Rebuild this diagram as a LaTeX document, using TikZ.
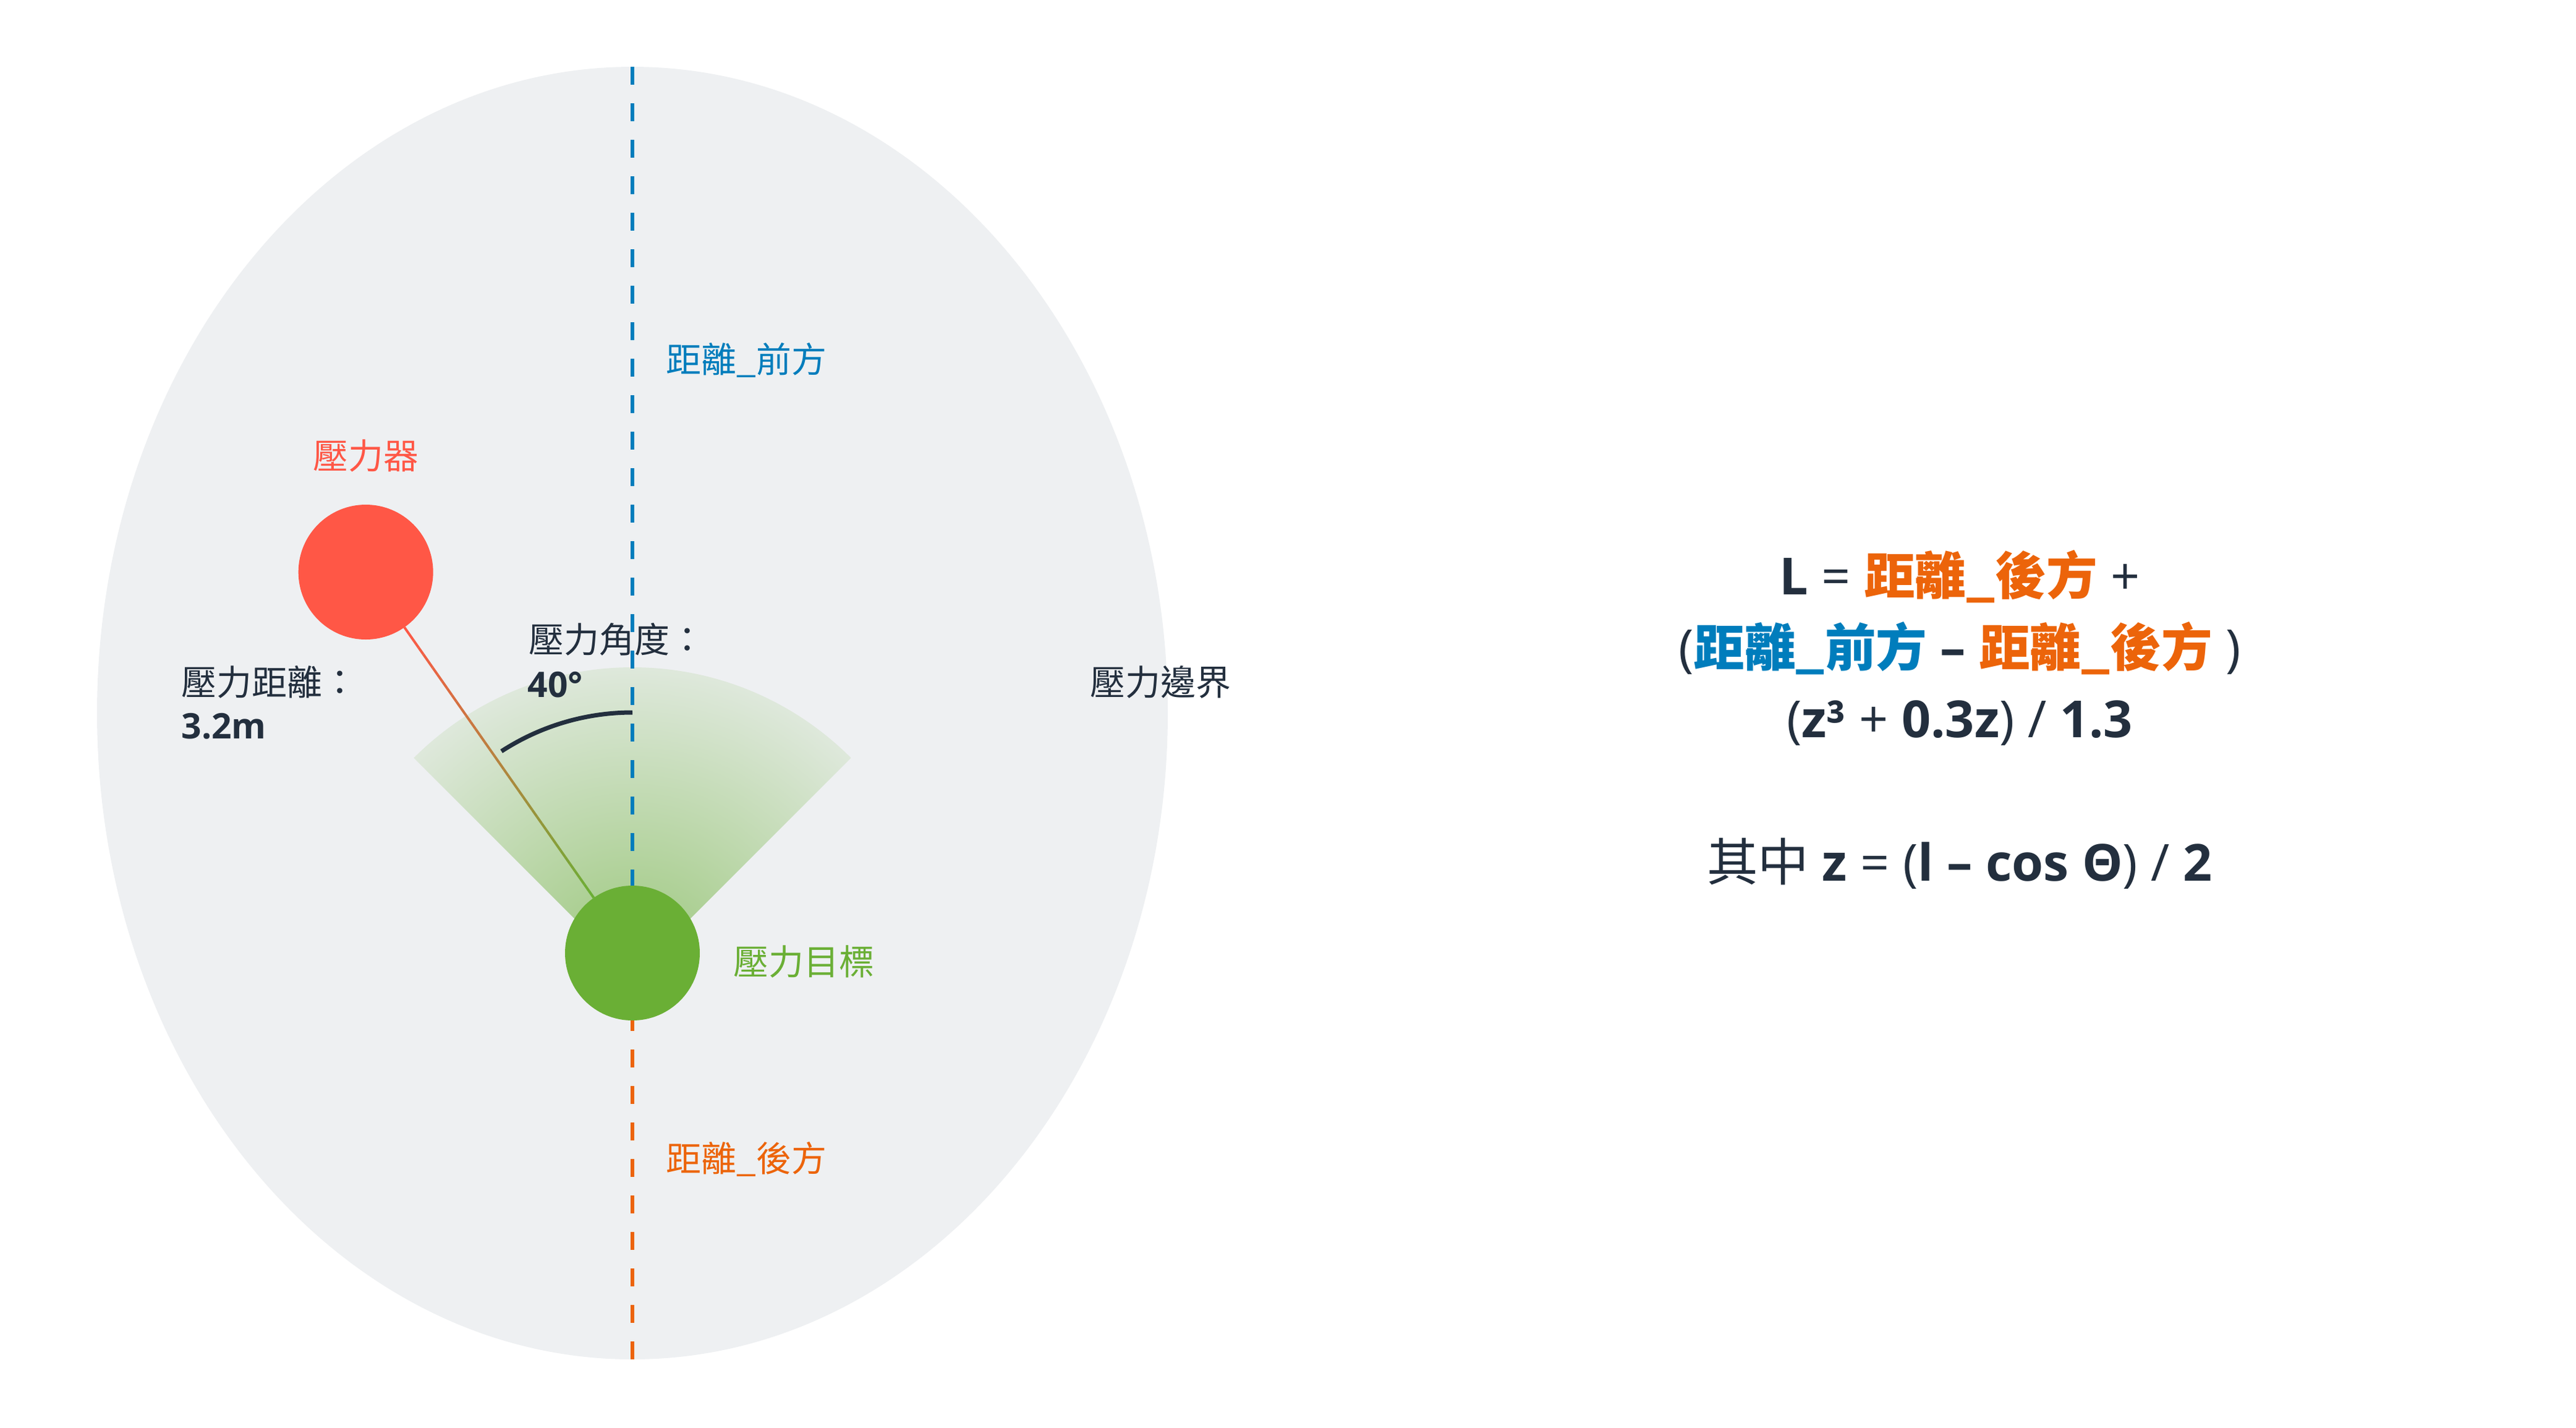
\documentclass[tikz,border=0pt]{standalone}
\usepackage{fontspec}
\setmainfont{Open Sans}
\newfontfamily\cjk{Noto Sans CJK TC}
\usepackage{tikz}
\usetikzlibrary{shapes.geometric,calc}
\usepackage{xcolor}
\definecolor{ColRed}{RGB}{255,87,70}
\definecolor{ColGreen}{RGB}{106,175,53}
\definecolor{ColBlue}{RGB}{0,125,188}
\definecolor{ColOrange}{RGB}{236,100,10}
\definecolor{ColInk}{RGB}{35,47,62}
\definecolor{ColBg}{RGB}{238,240,242}
\tikzstyle{Boundary}=[ellipse,fill=ColBg,inner sep=0pt,outer sep=0pt,minimum width=17.32cm,
minimum height=20.9cm]
\tikzstyle{Disc}=[circle,inner sep=0pt,outer sep=0pt,minimum size=2.18cm]
\tikzstyle{LabelCJK}=[inner sep=0pt,anchor=west,font=\fontsize{16.2}{19}\selectfont\cjk]
\tikzstyle{ValueText}=[inner sep=0pt,anchor=base west,text=ColInk,
font=\fontsize{16.2}{19}\selectfont\bfseries]
\tikzstyle{Formula}=[inner sep=0pt,anchor=base,text=ColInk,font=\fontsize{23.5}{28}\selectfont]
\tikzstyle{DashLine}=[line width=0.06cm,dash pattern=on 0.29cm off 0.30cm]
\tikzstyle{AngleArc}=[ColInk,line width=0.07cm]

\begin{document}
\begin{tikzpicture}
        \useasboundingbox(0,0)rectangle(41.67,-23.08);
        \node[Boundary](boundary)at(10.23,-11.53){};
        \coordinate(wedgetip)at(10.23,-15.79);
        \begin{scope}
            \clip(wedgetip)--++(45:5)arc(45:135:5)--cycle;
            \shade[inner color=ColGreen!64!ColBg,outer color=ColGreen!12!ColBg](wedgetip)circle(5);
        \end{scope}
        \node[Disc,fill=ColGreen](target)at(10.23,-15.41){};
        \node[Disc,fill=ColRed](emitter)at($(target)+(125:7.52)$){};
        \draw[DashLine,ColBlue](boundary.north)--(target.north);
        \draw[DashLine,ColOrange](boundary.south)--(target.south);
        \draw[AngleArc](target.center)++(90:3.89)arc(90:123:3.89);
        \foreach \i in {0,...,39}{
            \pgfmathsetmacro{\pa}{\i/40}
            \pgfmathsetmacro{\pb}{(\i+1)/40}
            \pgfmathsetmacro{\mixpct}{100-2.5*(\i+0.5)}
            \draw[line width=0.04cm,ColRed!\mixpct!ColGreen]($(emitter.305)!\pa!(target.125)$)--($(emitter.305)!\pb!(target.125)$);
        }
        \node[LabelCJK,text=ColBlue](frontlabel)at(10.77,-5.82){距離\_前方};
        \node[LabelCJK,text=ColOrange](backlabel)at(10.77,-18.74){距離\_後方};
        \node[LabelCJK,text=ColRed,anchor=center](emitterlabel)at(5.92,-7.37){壓力器};
        \node[LabelCJK,text=ColGreen](targetlabel)at(11.86,-15.55){壓力目標};
        \node[LabelCJK,text=ColInk](boundarylabel)at(17.63,-11.03){壓力邊界};
        \node[LabelCJK,text=ColInk](distlabel)at(2.93,-11.03){壓力距離：};
        \node[ValueText](distvalue)at(2.93,-11.94){3.2m};
        \node[LabelCJK,text=ColInk](anglelabel)at(8.55,-10.34){壓力角度：};
        \node[ValueText](anglevalue)at(8.53,-11.27){40°};
        \node[Formula](formulaA)at(31.70,-9.61){{\bfseries L} = {\cjk\bfseries\color{ColOrange}距離\_後方} +};
        \node[Formula](formulaB)at(31.70,-10.77){({\cjk\bfseries\color{ColBlue}距離\_前方} {\bfseries –} {\cjk\bfseries\color{ColOrange}距離\_後方} )};
        \node[Formula](formulaC)at(31.70,-11.92){({\bfseries z³} + {\bfseries 0.3z}) / {\bfseries 1.3}};
        \node[Formula](formulaD)at(31.70,-14.24){{\cjk 其中} {\bfseries z} = ({\bfseries l – cos Θ}) / {\bfseries 2}};
    \end{tikzpicture}
\end{document}
